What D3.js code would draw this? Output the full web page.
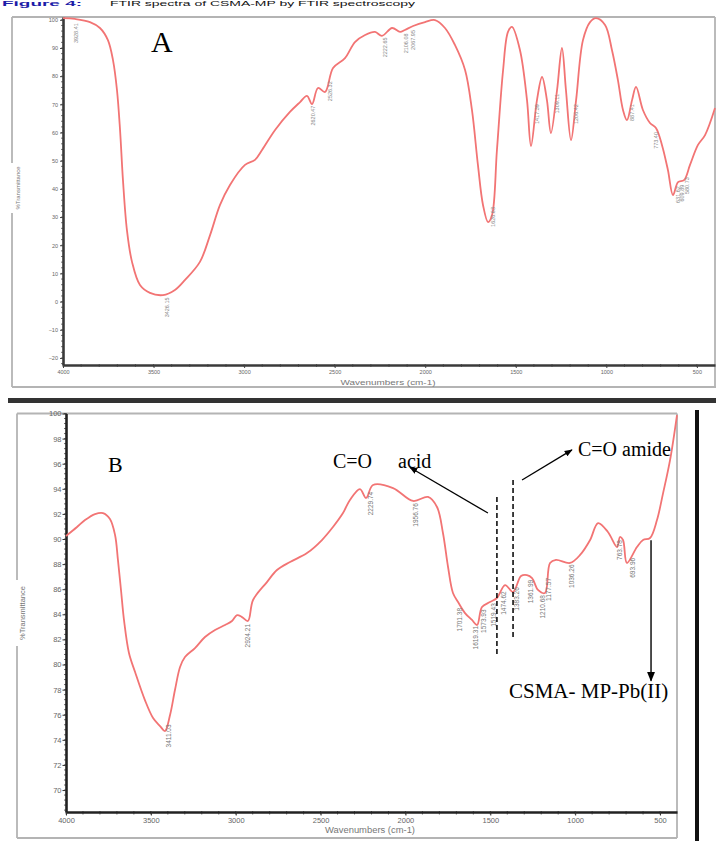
<!DOCTYPE html>
<html>
<head>
<meta charset="utf-8">
<script src="https://cdn.jsdelivr.net/npm/d3@7"></script>
<style>
  html, body { margin: 0; padding: 0; background: #fff; }
  svg { display: block; }
</style>
</head>
<body>
<svg id="chart" width="716" height="841"></svg>
<script>
// ---------------- DATA ----------------
// Panel A (CSMA-MP)
const topWavenumbers = [4000,3934,3851,3796,3752,3724,3702,3685,3669,3647,3619,3575,3520,3448,3382,3326,3244,3188,3133,3078,2995,2940,2901,2829,2747,2691,2653,2625,2592,2553,2509,2443,2388,2332,2277,2239,2183,2139,2112,2067,2001,1946,1891,1836,1780,1742,1709,1681,1653,1631,1604,1570,1543,1521,1477,1438,1416,1383,1355,1328,1306,1272,1245,1223,1195,1167,1129,1090,1057,1007,969,936,908,886,858,836,798,759,726,693,660,632,604,571,538,494,455,400];
const topTransmittance = [100.6,100.3,99.2,97.1,92.8,85.7,75.1,60.9,43.2,25.4,14.1,5.9,3.1,2.3,4.1,7.7,14.1,23.6,34.3,41.4,48.5,50.3,53.8,60.9,67.3,70.8,73.0,70.1,75.8,74.4,82.9,86.4,92.1,94.6,95.7,94.3,97.1,95.7,96.4,97.8,99.2,99.9,97.1,91.1,82.2,68.0,48.5,34.3,28.2,30.7,53.8,82.2,95.7,97.5,89.3,71.5,55.2,71.5,79.7,71.5,59.8,75.1,90.0,75.1,57.3,71.5,92.8,99.2,100.6,98.2,89.3,78.6,68.0,64.4,71.5,76.2,68.0,63.4,61.6,55.6,46.7,37.8,42.4,43.1,48.5,55.6,59.1,68.7];
const topPeakWn   = [3928,3426,2620,2526,2222,2106,2067,1626,1383,1272,1167,858,726,604,580,556];
const topPeakText = ["3928.41","3426.15","2620.47","2526.32","2222.65","2106.08","2067.95","1626.63","1417.39","1309.11","1206.42","887.41","773.40","631.62","609.89","580.73"];
const topYTicks = [100,90,80,70,60,50,40,30,20,10,0,-10,-20];

// Panel B (CSMA-MP-Pb(II))
const bottomWavenumbers = [4000,3935,3888,3829,3782,3741,3711,3694,3676,3658,3629,3593,3535,3487,3446,3417,3387,3358,3328,3299,3240,3181,3122,3063,3022,2992,2963,2928,2898,2816,2757,2680,2580,2492,2427,2368,2327,2268,2232,2191,2073,1955,1867,1814,1779,1749,1720,1690,1649,1608,1578,1549,1502,1461,1413,1366,1319,1284,1254,1219,1178,1148,1113,1030,971,912,865,807,753,736,718,695,636,600,559,518,482,441,400];
const bottomTransmittance = [90.24,90.96,91.51,91.99,92.07,91.59,90.32,88.33,85.94,83.51,80.92,79.40,77.17,75.74,75.10,74.70,75.98,77.97,79.80,80.60,81.31,82.19,82.75,83.15,83.47,83.94,83.78,83.47,85.14,86.57,87.53,88.17,88.88,89.92,90.96,92.07,93.11,93.98,93.27,94.30,94.06,93.03,93.35,92.55,90.48,87.77,85.70,84.98,84.10,83.55,83.15,84.58,84.98,85.30,86.33,85.78,87.05,87.13,86.89,85.94,85.70,88.09,88.33,88.09,88.73,89.92,91.27,90.56,89.36,90.16,89.92,88.09,89.36,89.92,90.08,91.51,93.66,96.29,99.88];
const bottomPeakWn   = [3399,2928,2203,1938,1679,1590,1543,1484,1425,1343,1266,1190,1160,1019,736,665];
const bottomPeakText = ["3411.03","2924.21","2229.74","1956.76","1701.38","1619.31","1573.93","1519.43","1474.62","1383.26","1361.99","1210.68","1177.57","1036.26","763.78","693.96"];
const bottomYTicks = [100,98,96,94,92,90,88,86,84,82,80,78,76,74,72,70];

const xTicks = [4000,3500,3000,2500,2000,1500,1000,500];

// ---------------- DRAW ----------------
const svg = d3.select("#chart");
const sans = "'Liberation Sans', Arial, sans-serif";
const serif = "'Liberation Serif', 'Times New Roman', serif";
const curveColor = "#f27474";
const frameColor = "#b4b4b4";

function interp(wns, vals, wn) {
  for (let i = 0; i < wns.length - 1; i++) {
    if (wn <= wns[i] && wn >= wns[i + 1]) {
      const t = (wns[i] - wn) / (wns[i] - wns[i + 1]);
      return vals[i] + t * (vals[i + 1] - vals[i]);
    }
  }
  return vals[vals.length - 1];
}

function line(g, x1, y1, x2, y2, color, w, dash) {
  const l = g.append("line").attr("x1", x1).attr("y1", y1).attr("x2", x2).attr("y2", y2)
    .attr("stroke", color).attr("stroke-width", w);
  if (dash) l.attr("stroke-dasharray", dash);
  return l;
}

// caption strip at the very top
svg.append("text").attr("x", 2).attr("y", 5.5)
  .attr("font-family", sans).attr("font-size", 6.5).attr("font-weight", "bold").attr("fill", "#1c1ca8")
  .attr("textLength", 80).attr("lengthAdjust", "spacingAndGlyphs")
  .text("Figure 4:");
svg.append("text").attr("x", 110).attr("y", 5.5)
  .attr("font-family", sans).attr("font-size", 6.5).attr("fill", "#111")
  .attr("textLength", 305).attr("lengthAdjust", "spacingAndGlyphs")
  .text("FTIR spectra of CSMA-MP by FTIR spectroscopy");

// ===== Panel A =====
const A = { left: 63, right: 715, top: 17, bottom: 365 };
const xA = d3.scaleLinear().domain([4000, 400]).range([A.left, A.right]);
const yA = d3.scaleLinear().domain([-22.5, 101]).range([A.bottom, A.top]);
const gA = svg.append("g");

// frames
line(gA, 12, A.top, A.right, A.top, frameColor, 1.8);
line(gA, A.right, A.top, A.right, 387, frameColor, 1.8);
line(gA, 12, A.top, 12, 163, frameColor, 1.8);
line(gA, 12, 213, 12, 387, frameColor, 1.8);
line(gA, 12, 387, 716, 387, frameColor, 1.8);

// minor ticks
const minorA_y = d3.range(-22, 101, 2);
gA.append("g").selectAll("line").data(minorA_y).join("line")
  .attr("x1", A.left - 2).attr("x2", A.left + 1).attr("y1", d => yA(d)).attr("y2", d => yA(d))
  .attr("stroke", "#555").attr("stroke-width", 0.8);
const minorA_x = d3.range(500, 4001, 100);
gA.append("g").selectAll("line").data(minorA_x).join("line")
  .attr("x1", d => xA(d)).attr("x2", d => xA(d)).attr("y1", A.bottom - 1).attr("y2", A.bottom + 2)
  .attr("stroke", "#555").attr("stroke-width", 0.8);

// axes
const axAy = gA.append("g").attr("transform", `translate(${A.left},0)`)
  .call(d3.axisLeft(yA).tickValues(topYTicks).tickSize(3).tickSizeOuter(0));
const axAx = gA.append("g").attr("transform", `translate(0,${A.bottom})`)
  .call(d3.axisBottom(xA).tickValues(xTicks).tickSize(3).tickSizeOuter(0).tickFormat(d3.format("d")));
[axAy, axAx].forEach(ax => {
  ax.select(".domain").attr("stroke", "#3a3a3a").attr("stroke-width", 2.6);
  ax.selectAll(".tick line").attr("stroke", "#444").attr("stroke-width", 1);
  ax.selectAll(".tick text").attr("font-family", sans).attr("font-size", 5.5).attr("fill", "#666");
});
axAy.selectAll(".tick text").attr("x", -5);
axAx.selectAll(".tick text").attr("y", 5);

// axis titles
gA.append("text").attr("x", 388).attr("y", 385).attr("text-anchor", "middle")
  .attr("font-family", sans).attr("font-size", 7).attr("fill", "#777")
  .attr("textLength", 95).attr("lengthAdjust", "spacingAndGlyphs")
  .text("Wavenumbers (cm-1)");
gA.append("text").attr("transform", "translate(20,188) rotate(-90)").attr("text-anchor", "middle")
  .attr("font-family", sans).attr("font-size", 6).attr("fill", "#777")
  .text("%Transmittance");

// curve
const lineA = d3.line().x(d => xA(d[0])).y(d => yA(d[1])).curve(d3.curveCatmullRom.alpha(0.5));
gA.append("path").datum(d3.zip(topWavenumbers, topTransmittance))
  .attr("d", lineA).attr("fill", "none").attr("stroke", curveColor).attr("stroke-width", 1.8)
  .attr("stroke-linejoin", "round");

// peak labels
gA.append("g").selectAll("text").data(d3.zip(topPeakWn, topPeakText)).join("text")
  .attr("transform", d => `translate(${xA(d[0]) + 2},${yA(interp(topWavenumbers, topTransmittance, d[0])) + 4}) rotate(-90)`)
  .attr("text-anchor", "end").attr("font-family", sans).attr("font-size", 5.5).attr("fill", "#888")
  .text(d => d[1]);

// panel label
gA.append("text").attr("x", 151).attr("y", 52).attr("font-family", serif).attr("font-size", 30)
  .attr("fill", "#000").text("A");

// separator
svg.append("rect").attr("x", 8).attr("y", 398).attr("width", 708).attr("height", 5).attr("fill", "#333");

// ===== Panel B =====
const B = { left: 66, right: 677, top: 413.5, bottom: 812 };
const xB = d3.scaleLinear().domain([4000, 400]).range([B.left, B.right]);
const yB = d3.scaleLinear().domain([68.25, 100]).range([B.bottom, B.top]);
const gB = svg.append("g");

line(gB, 17, B.top, B.right, B.top, frameColor, 1.8);
line(gB, B.right, B.top, B.right, 838, frameColor, 1.8);
line(gB, 17, B.top, 17, 580, frameColor, 1.8);
line(gB, 17, 646, 17, 838, frameColor, 1.8);
line(gB, 17, 838, B.right, 838, frameColor, 1.8);

// right black bar
svg.append("rect").attr("x", 695).attr("y", 410).attr("width", 4).attr("height", 431).attr("fill", "#111");

const minorB_y = d3.range(68.4, 100.01, 0.4);
gB.append("g").selectAll("line").data(minorB_y).join("line")
  .attr("x1", B.left - 2).attr("x2", B.left + 1).attr("y1", d => yB(d)).attr("y2", d => yB(d))
  .attr("stroke", "#444").attr("stroke-width", 0.8);
const minorB_x = d3.range(500, 4001, 100);
gB.append("g").selectAll("line").data(minorB_x).join("line")
  .attr("x1", d => xB(d)).attr("x2", d => xB(d)).attr("y1", B.bottom - 1).attr("y2", B.bottom + 2.5)
  .attr("stroke", "#444").attr("stroke-width", 0.8);

const axBy = gB.append("g").attr("transform", `translate(${B.left},0)`)
  .call(d3.axisLeft(yB).tickValues(bottomYTicks).tickSize(3.5).tickSizeOuter(0));
const axBx = gB.append("g").attr("transform", `translate(0,${B.bottom})`)
  .call(d3.axisBottom(xB).tickValues(xTicks).tickSize(3.5).tickSizeOuter(0).tickFormat(d3.format("d")));
[axBy, axBx].forEach(ax => {
  ax.select(".domain").attr("stroke", "#222").attr("stroke-width", 2.6);
  ax.selectAll(".tick line").attr("stroke", "#333").attr("stroke-width", 1);
  ax.selectAll(".tick text").attr("font-family", sans).attr("font-size", 7.5).attr("fill", "#666");
});
axBy.selectAll(".tick text").attr("x", -4.5);
axBx.selectAll(".tick text").attr("y", 6);

gB.append("text").attr("x", 370).attr("y", 833).attr("text-anchor", "middle")
  .attr("font-family", sans).attr("font-size", 8.5).attr("fill", "#777")
  .attr("textLength", 90).attr("lengthAdjust", "spacingAndGlyphs")
  .text("Wavenumbers (cm-1)");
gB.append("text").attr("transform", "translate(25,613) rotate(-90)").attr("text-anchor", "middle")
  .attr("font-family", sans).attr("font-size", 7.5).attr("fill", "#777")
  .text("%Transmittance");

const lineB = d3.line().x(d => xB(d[0])).y(d => yB(d[1])).curve(d3.curveCatmullRom.alpha(0.5));
gB.append("path").datum(d3.zip(bottomWavenumbers, bottomTransmittance))
  .attr("d", lineB).attr("fill", "none").attr("stroke", curveColor).attr("stroke-width", 1.8)
  .attr("stroke-linejoin", "round");

gB.append("g").selectAll("text").data(d3.zip(bottomPeakWn, bottomPeakText)).join("text")
  .attr("transform", d => `translate(${xB(d[0]) + 2.5},${yB(interp(bottomWavenumbers, bottomTransmittance, d[0])) + 3}) rotate(-90)`)
  .attr("text-anchor", "end").attr("font-family", sans).attr("font-size", 6.5).attr("fill", "#777")
  .text(d => d[1]);

// annotations
const defs = svg.append("defs");
defs.append("marker").attr("id", "arr").attr("viewBox", "0 0 10 10").attr("refX", 9).attr("refY", 5)
  .attr("markerWidth", 8).attr("markerHeight", 8).attr("markerUnits", "userSpaceOnUse").attr("orient", "auto")
  .append("path").attr("d", "M0,1 L10,5 L0,9 Z").attr("fill", "#000");
defs.append("marker").attr("id", "arrL").attr("viewBox", "0 0 10 10").attr("refX", 9).attr("refY", 5)
  .attr("markerWidth", 10).attr("markerHeight", 12).attr("markerUnits", "userSpaceOnUse").attr("orient", "auto")
  .append("path").attr("d", "M0,1 L10,5 L0,9 Z").attr("fill", "#000");

// dashed lines
line(gB, xB(1461), yB(93.35), xB(1461), yB(80.6), "#000", 1.5, "5,3");
line(gB, xB(1366), yB(94.7), xB(1366), yB(82.0), "#000", 1.5, "5,3");
// arrows
line(gB, xB(1514), yB(92.07), xB(1973), yB(95.7), "#000", 1.3).attr("marker-end", "url(#arr)");
line(gB, xB(1313), yB(94.7), xB(1019), yB(97.1), "#000", 1.3).attr("marker-end", "url(#arr)");
line(gB, xB(553), yB(89.9), xB(553), yB(78.7), "#000", 1.4).attr("marker-end", "url(#arrL)");

gB.append("text").attr("x", 108).attr("y", 472).attr("font-family", serif).attr("font-size", 22)
  .attr("fill", "#000").text("B");
gB.append("text").attr("x", 333).attr("y", 468).attr("font-family", serif).attr("font-size", 20)
  .attr("fill", "#000").text("C=O");
gB.append("text").attr("x", 398).attr("y", 468).attr("font-family", serif).attr("font-size", 20)
  .attr("fill", "#000").text("acid");
gB.append("text").attr("x", 578).attr("y", 456).attr("font-family", serif).attr("font-size", 20)
  .attr("fill", "#000").text("C=O amide");
gB.append("text").attr("x", 509).attr("y", 698).attr("font-family", serif).attr("font-size", 21)
  .attr("fill", "#000").text("CSMA- MP-Pb(II)");
</script>
</body>
</html>
